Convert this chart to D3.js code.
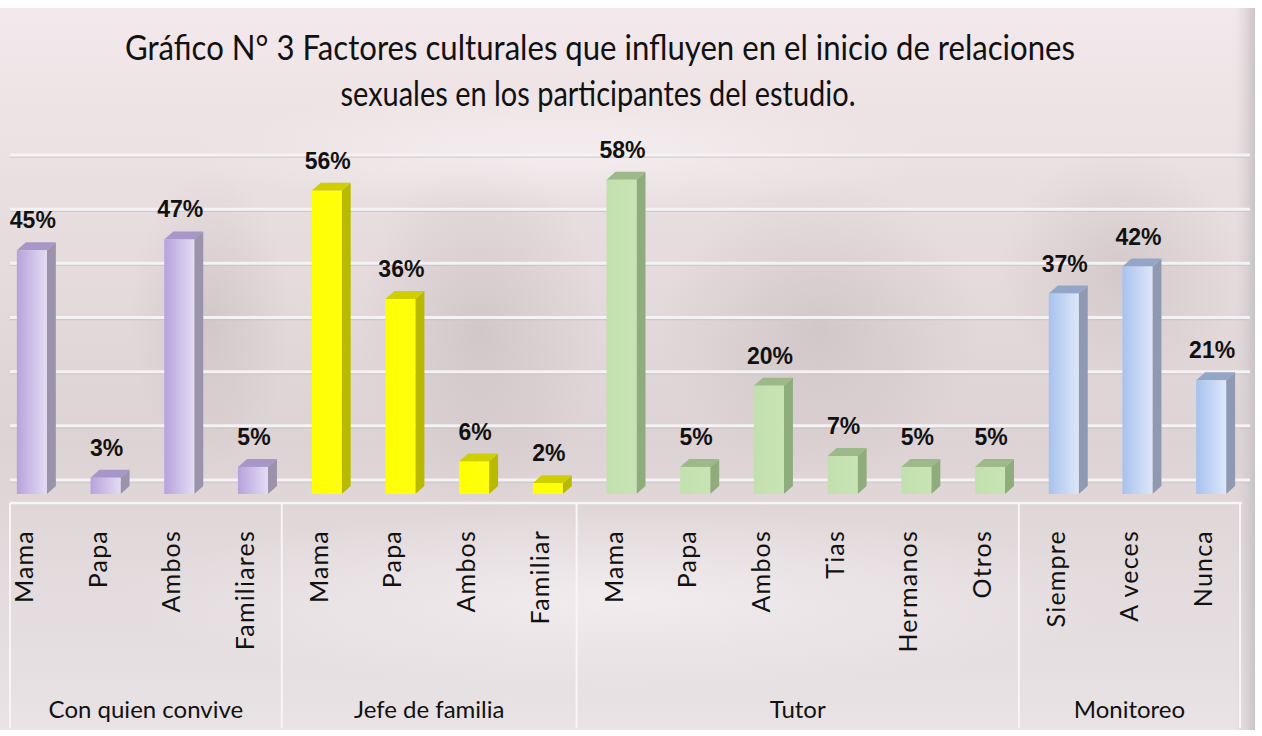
<!DOCTYPE html>
<html>
<head>
<meta charset="utf-8">
<script src="https://cdn.jsdelivr.net/npm/d3@7"></script>
<style>
  html, body { margin: 0; padding: 0; background: #fff; }
  svg { display: block; }
</style>
</head>
<body>
<svg id="chart" width="1262" height="736"></svg>
<script>
// ── Data ───────────────────────────────────────────────────────────────────
const titleLines = [
  'Gráfico N° 3 Factores culturales que influyen en el inicio de relaciones',
  'sexuales en los participantes del estudio.'
];
const groups     = ['Con quien convive', 'Jefe de familia', 'Tutor', 'Monitoreo'];
const categories = ['Mama', 'Papa', 'Ambos', 'Familiares',
                    'Mama', 'Papa', 'Ambos', 'Familiar',
                    'Mama', 'Papa', 'Ambos', 'Tias', 'Hermanos', 'Otros',
                    'Siempre', 'A veces', 'Nunca'];
const groupIndex = [0, 0, 0, 0, 1, 1, 1, 1, 2, 2, 2, 2, 2, 2, 3, 3, 3];
const values     = [45, 3, 47, 5, 56, 36, 6, 2, 58, 5, 20, 7, 5, 5, 37, 42, 21];
const gridTicks  = [0, 10, 20, 30, 40, 50, 60];

// per-group colours: front (left/right of gradient), side, top
const palette = [
  { f0: '#b7a2dc', f1: '#e4dcf4', side: '#9a93aa', top: '#a797c8' },
  { f0: '#ffff00', f1: '#ffff10', side: '#b9b900', top: '#cfcf00' },
  { f0: '#c2e0ad', f1: '#c8e4b4', side: '#8fac7c', top: '#9db98a' },
  { f0: '#a8c2ee', f1: '#dde7f9', side: '#8f9ab2', top: '#93a6c8' }
];

const svg = d3.select('#chart');
const W = 1262, H = 736;
const defs = svg.append('defs');

// ── Background ─────────────────────────────────────────────────────────────
const bgGrad = defs.append('linearGradient').attr('id', 'bg')
  .attr('x1', 0).attr('y1', 0).attr('x2', 0).attr('y2', 1);
bgGrad.append('stop').attr('offset', '0%').attr('stop-color', '#f3e8eb');
bgGrad.append('stop').attr('offset', '25%').attr('stop-color', '#e9dfe0');
bgGrad.append('stop').attr('offset', '60%').attr('stop-color', '#ddd3d4');
bgGrad.append('stop').attr('offset', '100%').attr('stop-color', '#e9e3e6');

svg.append('rect').attr('width', W).attr('height', H).attr('fill', '#ffffff');
svg.append('rect').attr('x', 0).attr('y', 8).attr('width', 1255).attr('height', 722)
  .attr('fill', 'url(#bg)');

// soft darker shading blobs
const blob = defs.append('radialGradient').attr('id', 'blob');
blob.append('stop').attr('offset', '0%').attr('stop-color', '#b9aeb0').attr('stop-opacity', 0.4);
blob.append('stop').attr('offset', '100%').attr('stop-color', '#b9aeb0').attr('stop-opacity', 0);
const lite = defs.append('radialGradient').attr('id', 'lite');
lite.append('stop').attr('offset', '0%').attr('stop-color', '#f6f0f2').attr('stop-opacity', 0.8);
lite.append('stop').attr('offset', '100%').attr('stop-color', '#f6f0f2').attr('stop-opacity', 0);

const blobs = [
  { cx: 480, cy: 330, rx: 120, ry: 190, g: 'blob' },
  { cx: 210, cy: 320, rx: 80,  ry: 150, g: 'blob' },
  { cx: 1120, cy: 270, rx: 120, ry: 120, g: 'blob' },
  { cx: 820, cy: 330, rx: 160, ry: 150, g: 'blob' },
  { cx: 560, cy: 150, rx: 380, ry: 60, g: 'lite' },
  { cx: 620, cy: 600, rx: 500, ry: 90, g: 'lite' }
];
svg.append('g').selectAll('ellipse').data(blobs).join('ellipse')
  .attr('cx', d => d.cx).attr('cy', d => d.cy)
  .attr('rx', d => d.rx).attr('ry', d => d.ry)
  .attr('fill', d => `url(#${d.g})`);

// right-edge shadow strip
const edge = defs.append('linearGradient').attr('id', 'edge');
edge.append('stop').attr('offset', '0%').attr('stop-color', '#d9d2d4').attr('stop-opacity', 0);
edge.append('stop').attr('offset', '100%').attr('stop-color', '#c9c3c6').attr('stop-opacity', 1);
svg.append('rect').attr('x', 1235).attr('y', 8).attr('width', 20).attr('height', 722)
  .attr('fill', 'url(#edge)');

// ── Scales ─────────────────────────────────────────────────────────────────
const idx = d3.range(categories.length);
const x = d3.scaleBand().domain(idx).range([-13, 1240]).padding(0);
const y = d3.scaleLinear().domain([0, 60]).range([494, 169]);

const BAR_W = 30, SHIFT = 8, DX = 9, DY = 8, WALL = 14;

// ── Gridlines (back wall) ──────────────────────────────────────────────────
const grid = svg.append('g');
grid.selectAll('line.sh').data(gridTicks).join('line').attr('class', 'sh')
  .attr('x1', 10).attr('x2', 1250)
  .attr('y1', d => y(d) - WALL + 2).attr('y2', d => y(d) - WALL + 2)
  .attr('stroke', '#c9bfc1').attr('stroke-width', 1.5).attr('opacity', 0.7);
grid.selectAll('line.gl').data(gridTicks).join('line').attr('class', 'gl')
  .attr('x1', 10).attr('x2', 1250)
  .attr('y1', d => y(d) - WALL).attr('y2', d => y(d) - WALL)
  .attr('stroke', '#f5f2f5').attr('stroke-width', 3);

// ── Bars ───────────────────────────────────────────────────────────────────
palette.forEach((p, i) => {
  const g = defs.append('linearGradient').attr('id', `front${i}`);
  g.append('stop').attr('offset', '0%').attr('stop-color', p.f0);
  g.append('stop').attr('offset', '100%').attr('stop-color', p.f1);
});

const bars = svg.append('g').selectAll('g.bar').data(idx).join('g').attr('class', 'bar');
const x0 = i => x(i) + x.bandwidth() / 2 + SHIFT - BAR_W / 2;

bars.append('polygon')
  .attr('points', i => {
    const a = x0(i) + BAR_W, t = y(values[i]), b = y(0);
    return [[a, t], [a + DX, t - DY], [a + DX, b - DY], [a, b]].join(' ');
  })
  .attr('fill', i => palette[groupIndex[i]].side);
bars.append('polygon')
  .attr('points', i => {
    const l = x0(i), t = y(values[i]);
    return [[l, t], [l + DX, t - DY], [l + BAR_W + DX, t - DY], [l + BAR_W, t]].join(' ');
  })
  .attr('fill', i => palette[groupIndex[i]].top);
bars.append('rect')
  .attr('x', i => x0(i))
  .attr('y', i => y(values[i]))
  .attr('width', BAR_W)
  .attr('height', i => y(0) - y(values[i]))
  .attr('fill', i => `url(#front${groupIndex[i]})`);

// value labels
svg.append('g').selectAll('text').data(idx).join('text')
  .attr('x', i => x0(i) + BAR_W / 2 + 1)
  .attr('y', i => y(values[i]) - 22)
  .attr('text-anchor', 'middle')
  .attr('font-family', '"Liberation Sans", Arial, sans-serif')
  .attr('font-weight', 'bold')
  .attr('font-size', 23)
  .attr('fill', '#111')
  .text(i => values[i] + '%');

// ── Category axis box ──────────────────────────────────────────────────────
const AX_Y = 503, AX_B = 728;
const axis = svg.append('g');
axis.append('line')
  .attr('x1', 10).attr('x2', x.range()[1] + 2)
  .attr('y1', AX_Y).attr('y2', AX_Y)
  .attr('stroke', '#f7f5f7').attr('stroke-width', 2.5);

// group boundaries
const groupStart = groups.map((g, gi) => groupIndex.indexOf(gi));
const groupEnd = groups.map((g, gi) => groupIndex.lastIndexOf(gi));
const seps = groupStart.slice(1).map(s => x(s)).concat([x(categories.length - 1) + x.bandwidth()]);
axis.selectAll('line.sep').data(seps).join('line').attr('class', 'sep')
  .attr('x1', d => d).attr('x2', d => d)
  .attr('y1', AX_Y).attr('y2', AX_B)
  .attr('stroke', '#f7f5f7').attr('stroke-width', 2);
axis.append('line').attr('x1', 10).attr('x2', 10)
  .attr('y1', AX_Y).attr('y2', AX_B)
  .attr('stroke', '#f7f5f7').attr('stroke-width', 2);

const labelFont = 'Lato, "Open Sans", sans-serif';
axis.selectAll('text.cat').data(idx).join('text').attr('class', 'cat')
  .attr('transform', i => `translate(${x(i) + x.bandwidth() / 2 + 9},530) rotate(-90)`)
  .attr('text-anchor', 'end')
  .attr('font-family', labelFont)
  .attr('font-size', 25)
  .attr('letter-spacing', 1.2)
  .attr('fill', '#111')
  .text(i => categories[i]);

axis.selectAll('text.grp').data(groups).join('text').attr('class', 'grp')
  .attr('x', (g, gi) => (Math.max(10, x(groupStart[gi])) + x(groupEnd[gi]) + x.bandwidth()) / 2)
  .attr('y', 718)
  .attr('text-anchor', 'middle')
  .attr('font-family', labelFont)
  .attr('font-size', 24)
  .attr('fill', '#111')
  .text(g => g);

// ── Title ──────────────────────────────────────────────────────────────────
const titleLayout = [
  { cx: 600, y: 60, len: 950 },
  { cx: 598, y: 106, len: 515 }
];
svg.append('g').selectAll('text').data(titleLines).join('text')
  .attr('x', (t, i) => titleLayout[i].cx)
  .attr('y', (t, i) => titleLayout[i].y)
  .attr('text-anchor', 'middle')
  .attr('textLength', (t, i) => titleLayout[i].len)
  .attr('lengthAdjust', 'spacingAndGlyphs')
  .attr('font-family', labelFont)
  .attr('font-size', 34)
  .attr('fill', '#111')
  .text(t => t);
</script>
</body>
</html>
